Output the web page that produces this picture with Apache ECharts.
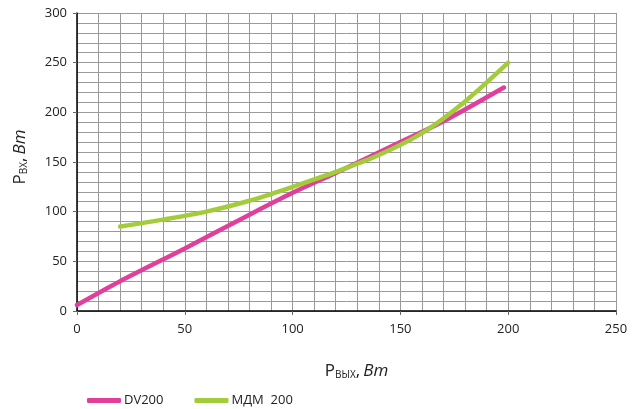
<!DOCTYPE html>
<html>
<head>
<meta charset="utf-8">
<script src="https://cdn.jsdelivr.net/npm/echarts@6/dist/echarts.min.js"></script>
<style>html,body{margin:0;padding:0;background:#fff}#c{width:638px;height:409px}</style>
</head>
<body>
<div id="c"></div>
<script>
var dvX = [0, 20, 50, 80, 100, 120, 150, 170, 198];
var dvY = [6, 30, 63, 97, 119, 139, 170, 191, 225];
var mdmX = [20, 40, 60, 80, 100, 120, 140, 160, 180, 200];
var mdmY = [85, 92, 100, 111, 125, 140, 157, 179, 211, 250];
var seriesNames = ['DV200', 'МДМ  200'];
var xTicks = [0, 50, 100, 150, 200, 250];
var yTicks = [0, 50, 100, 150, 200, 250, 300];

function pairs(xs, ys){ return xs.map(function(x,i){ return [x, ys[i]]; }); }

var FONT = 'Open Sans';
var chart = echarts.init(document.getElementById('c'), null, {renderer:'canvas'});
var gridLine = {show:true, lineStyle:{color:'#9a9a9a', width:1}};
function rich(){
  return {
    p:{fontFamily:FONT, fontSize:17, color:'#222', verticalAlign:'bottom', lineHeight:22},
    s:{fontFamily:FONT, fontSize:10, color:'#222', verticalAlign:'bottom', lineHeight:7},
    c:{fontFamily:FONT, fontSize:17, color:'#222', verticalAlign:'bottom', lineHeight:22},
    u:{fontFamily:FONT, fontSize:17, fontStyle:'italic', color:'#222', verticalAlign:'bottom', lineHeight:22}
  };
}
chart.setOption({
  animation:false,
  textStyle:{fontFamily:FONT},
  grid:{left:77, right:22, top:13, bottom:98},
  legend:{
    left:82, top:389, icon:'roundRect', itemWidth:34, itemHeight:5, itemGap:31,
    textStyle:{fontFamily:FONT, fontSize:13, color:'#222', padding:[0,0,0,-2]},
    data:seriesNames
  },
  xAxis:{
    type:'value', min:xTicks[0], max:xTicks[xTicks.length-1], interval:50,
    axisLine:{show:true, lineStyle:{color:'#000', width:1.5}},
    axisTick:{show:true, length:4, lineStyle:{color:'#666'}},
    axisLabel:{fontFamily:FONT, fontSize:13, color:'#222', margin:12},
    splitLine:gridLine,
    minorTick:{show:false, splitNumber:5},
    minorSplitLine:gridLine,
    name:'{p|P}{s|ВЫХ}{c|,} {u|Вт}',
    nameLocation:'middle', nameGap:47,
    nameTextStyle:{padding:[0,0,0,20], rich:rich()}
  },
  yAxis:{
    type:'value', min:yTicks[0], max:yTicks[yTicks.length-1], interval:50,
    axisLine:{show:true, lineStyle:{color:'#000', width:1.5}},
    axisTick:{show:true, length:4, lineStyle:{color:'#666'}},
    axisLabel:{fontFamily:FONT, fontSize:13, color:'#222', margin:10},
    splitLine:gridLine,
    minorTick:{show:false, splitNumber:5},
    minorSplitLine:gridLine,
    name:'{p|P}{s|ВХ}{c|,} {u|Вт}',
    nameLocation:'middle', nameGap:48,
    nameTextStyle:{padding:[0,0,0,10], rich:rich()}
  },
  series:[
    {name:seriesNames[0], type:'line', data:pairs(dvX, dvY), smooth:0.3, showSymbol:false,
     itemStyle:{color:'#e0409c'}, lineStyle:{color:'#e0409c', width:4.5, cap:'round'}},
    {name:seriesNames[1], type:'line', data:pairs(mdmX, mdmY), smooth:0.3, showSymbol:false,
     itemStyle:{color:'#a3cc3a'}, lineStyle:{color:'#a3cc3a', width:4.5, cap:'round'}}
  ]
});
</script>
</body>
</html>
